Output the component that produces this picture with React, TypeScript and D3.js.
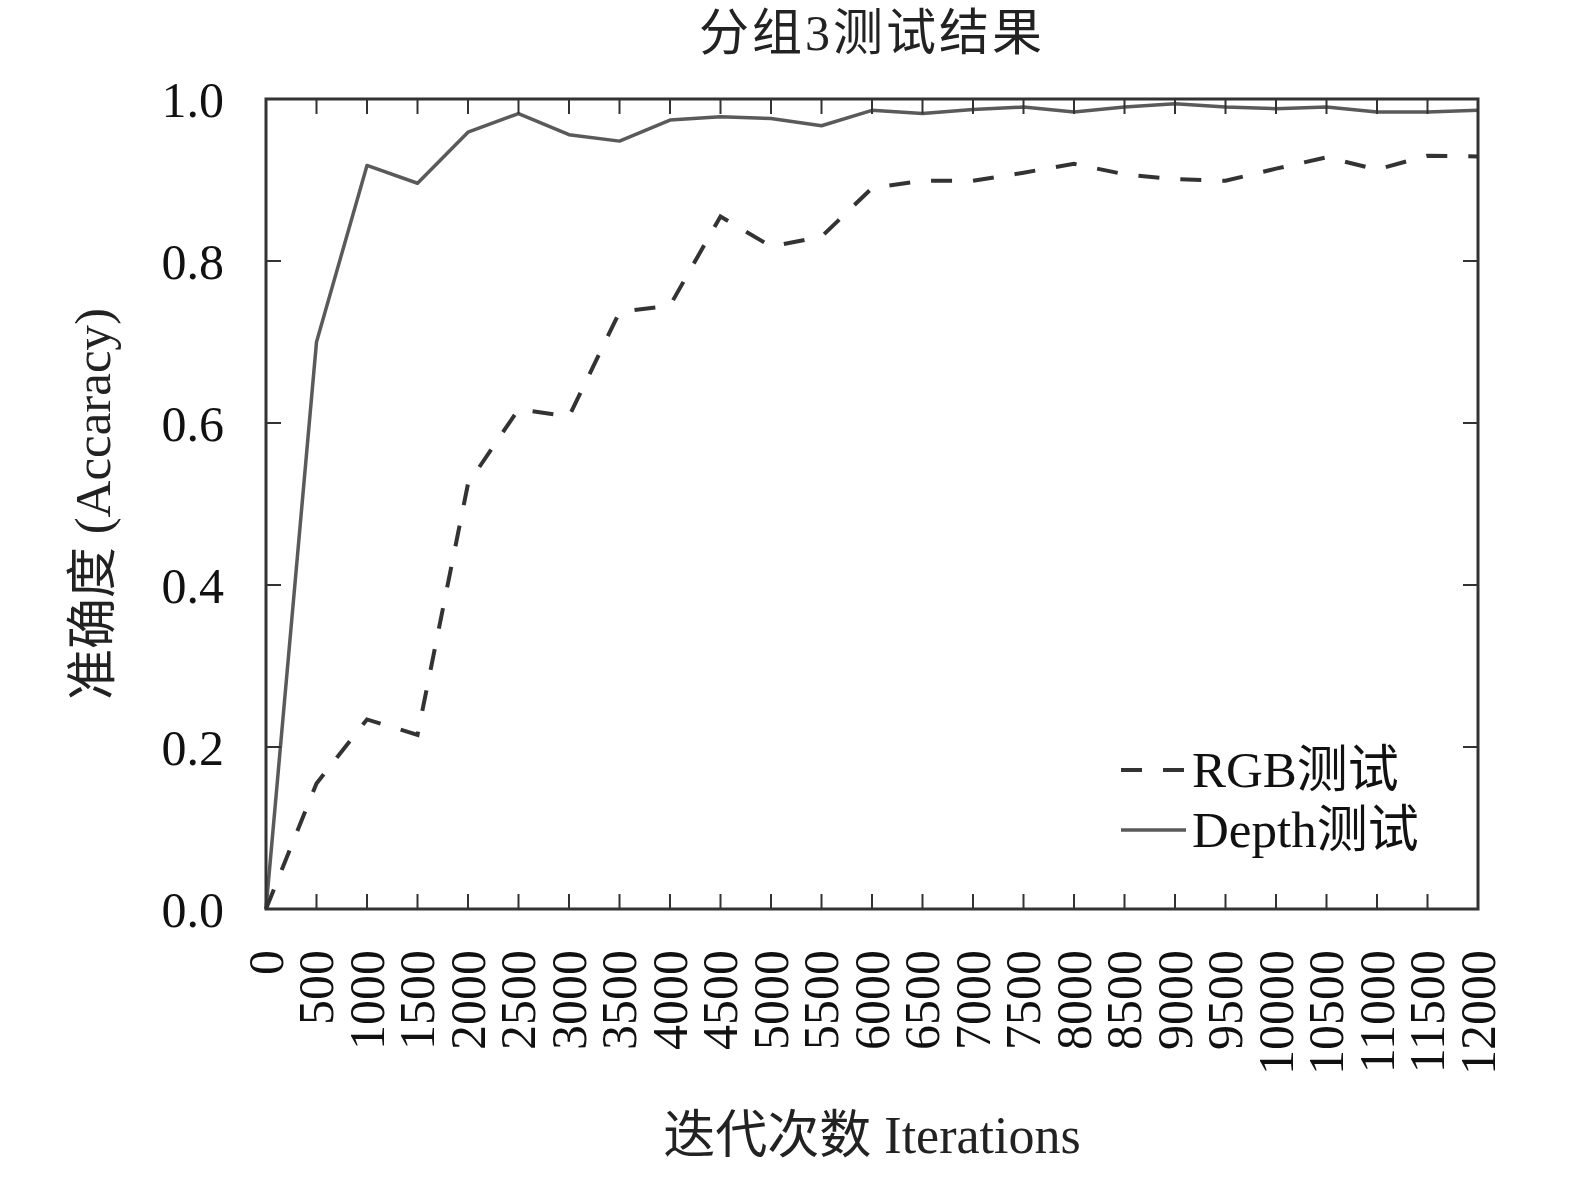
import React from "react";
import * as d3 from "d3";

const iterations = [0, 500, 1000, 1500, 2000, 2500, 3000, 3500, 4000, 4500, 5000, 5500, 6000, 6500, 7000, 7500, 8000, 8500, 9000, 9500, 10000, 10500, 11000, 11500, 12000];
const rgbAcc = [0, 0.155, 0.234, 0.215, 0.525, 0.617, 0.608, 0.737, 0.745, 0.855, 0.818, 0.83, 0.89, 0.899, 0.899, 0.909, 0.92, 0.907, 0.901, 0.899, 0.914, 0.928, 0.913, 0.93, 0.929];
const depthAcc = [0, 0.70, 0.918, 0.896, 0.959, 0.982, 0.956, 0.948, 0.974, 0.978, 0.976, 0.967, 0.986, 0.982, 0.987, 0.99, 0.984, 0.99, 0.994, 0.99, 0.988, 0.99, 0.984, 0.984, 0.986];
const yTicks = [0, 0.2, 0.4, 0.6, 0.8, 1.0];
const seriesNames = ["RGB测试", "Depth测试"];
const title = "分组3测试结果";
const xLabel = "迭代次数 Iterations";
const yLabel = "准确度 (Accaracy)";

const W = 1575, H = 1177;
const L = 266, R = 1478, T = 99, B = 909;
const FONT = "'Liberation Serif', 'Noto Sans CJK SC', serif";

export default function App() {
  const x = d3.scaleLinear().domain([0, 12000]).range([L, R]);
  const y = d3.scaleLinear().domain([0, 1]).range([B, T]);
  const line = d3.line<number>().x((_, i) => x(iterations[i])).y(d => y(d));
  const tickLen = 15;
  return (
    <svg width={W} height={H} style={{ position: "absolute", left: 0, top: 0, background: "#fff" }} fontFamily={FONT}>
      <rect x={0} y={0} width={W} height={H} fill="#fff" />
      <text x={(L + R) / 2} y={50} textAnchor="middle" fontSize={50} letterSpacing={3} fill="#222">{title}</text>
      <path d={line(depthAcc) || ""} fill="none" stroke="#5a5a5a" strokeWidth={3.5} strokeLinejoin="round" />
      <path d={line(rgbAcc) || ""} fill="none" stroke="#333" strokeWidth={4} strokeDasharray="21,21" />
      <rect x={L} y={T} width={R - L} height={B - T} fill="none" stroke="#333" strokeWidth={3} />
      {iterations.map(v => (
        <g key={"xt" + v}>
          <line x1={x(v)} x2={x(v)} y1={B} y2={B - tickLen} stroke="#333" strokeWidth={2} />
          <line x1={x(v)} x2={x(v)} y1={T} y2={T + tickLen} stroke="#333" strokeWidth={2} />
          <text transform={`translate(${x(v)},${950}) rotate(-90)`} textAnchor="end" dy="0.33em" fontSize={50} fill="#111">{v}</text>
        </g>
      ))}
      {yTicks.map(v => (
        <g key={"yt" + v}>
          <line x1={L} x2={L + tickLen} y1={y(v)} y2={y(v)} stroke="#333" strokeWidth={2} />
          <line x1={R} x2={R - tickLen} y1={y(v)} y2={y(v)} stroke="#333" strokeWidth={2} />
          <text x={224} y={y(v)} dy="0.35em" textAnchor="end" fontSize={50} fill="#111">{v.toFixed(1)}</text>
        </g>
      ))}
      <text x={(L + R) / 2} y={1153} textAnchor="middle" fontSize={52} fill="#222">{xLabel}</text>
      <text transform={`translate(${110},${(T + B) / 2}) rotate(-90)`} textAnchor="middle" fontSize={51} fill="#222">{yLabel}</text>
      <line x1={1121} x2={1186} y1={770} y2={770} stroke="#333" strokeWidth={4} strokeDasharray="21,21" />
      <text x={1192} y={787} fontSize={51} fill="#111">{seriesNames[0]}</text>
      <line x1={1121} x2={1186} y1={830} y2={830} stroke="#5a5a5a" strokeWidth={3.5} />
      <text x={1192} y={847} fontSize={51} fill="#111">{seriesNames[1]}</text>
    </svg>
  );
}
